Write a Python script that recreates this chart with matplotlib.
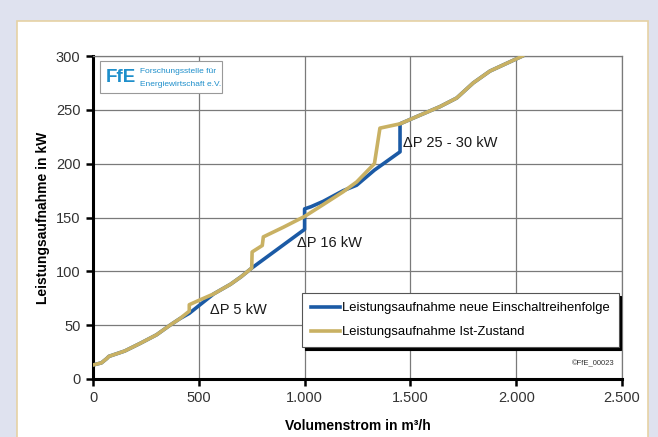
import numpy as np
import matplotlib
matplotlib.use('Agg')
import matplotlib.pyplot as plt
from matplotlib.patches import Rectangle

plt.rcParams['font.family'] = ['Liberation Sans', 'DejaVu Sans']

# Ist-Zustand (tan line)
ist_x = [0, 40, 65, 75, 90, 150, 222, 300, 364, 410, 455, 455, 500, 570, 650, 700,
         750, 752, 800, 805, 900, 1000, 1088, 1183, 1246, 1330, 1356, 1451, 1545,
         1640, 1719, 1797, 1876, 2030]
ist_y = [13, 15, 19, 21, 22, 26, 33, 41, 50, 56, 63, 69, 73, 79, 88, 95,
         103, 118, 124, 132, 141, 151, 162, 174, 183, 200, 233, 237, 245,
         253, 261, 275, 286, 300]

# neue Einschaltreihenfolge (blue line)
neu_x = [0, 40, 65, 75, 90, 150, 222, 300, 364, 410, 455, 570, 650, 700, 750,
         1000, 1000, 1030, 1088, 1183, 1246, 1330, 1451, 1451, 1545, 1640, 1719,
         1797, 1876, 2030]
neu_y = [13, 15, 19, 21, 22, 26, 33, 41, 50, 56, 61, 79, 88, 95, 103,
         139, 158, 160, 165, 175, 180, 194, 211, 237, 245, 253, 261,
         275, 286, 300]

labels = ['Leistungsaufnahme neue Einschaltreihenfolge',
          'Leistungsaufnahme Ist-Zustand']
notes = ['\u0394P 5 kW', '\u0394P 16 kW', '\u0394P 25 - 30 kW']
note_x = [553, 962, 1465]
note_y = [64, 126, 219]

W, H = 658, 437
fig = plt.figure(figsize=(W / 100, H / 100), dpi=100)
fig.patch.set_facecolor('#dfe2ef')

# white panel with tan border, behind the axes
fig.patches.append(Rectangle((17 / W, -0.02), (648 - 17) / W, 1 - 21 / H + 0.02,
                             transform=fig.transFigure, facecolor='white',
                             edgecolor='#e6d2a4', linewidth=1.2, zorder=-10))

ax = fig.add_axes([93 / W, 1 - 379 / H, (622 - 93) / W, (379 - 56) / H])
ax.set_facecolor('none')

ax.plot(neu_x, neu_y, color='#1b5aa5', lw=2.6, label=labels[0], zorder=3)
ax.plot(ist_x, ist_y, color='#c9b163', lw=2.6, label=labels[1], zorder=4)

ax.set_xlim(0, 2500)
ax.set_ylim(0, 300)
ax.set_xticks(np.arange(0, 2501, 500))
ax.set_xticklabels(['0', '500', '1.000', '1.500', '2.000', '2.500'])
ax.set_yticks(np.arange(0, 301, 50))
ax.grid(True, color='#7a7a7a', lw=0.9)
ax.set_axisbelow(True)

for s in ['top', 'right']:
    ax.spines[s].set_color('#7a7a7a')
    ax.spines[s].set_linewidth(0.9)
for s in ['left', 'bottom']:
    ax.spines[s].set_color('black')
    ax.spines[s].set_linewidth(2.2)
ax.tick_params(length=5, width=1.8, color='black', labelsize=10.5,
               labelcolor='#333333', pad=4)

ax.set_xlabel('Volumenstrom in m\u00b3/h', fontsize=10, fontweight='bold', labelpad=10)
ax.set_ylabel('Leistungsaufnahme in kW', fontsize=10, fontweight='bold', labelpad=4)

for t, x, y in zip(notes, note_x, note_y):
    ax.text(x, y, t, fontsize=10.5, color='#1a1a1a', va='center', ha='left', zorder=5)

leg = ax.legend(loc='upper left', bbox_to_anchor=((302 - 93) / 529, (379 - 293) / 323),
                fontsize=9.4, frameon=True, fancybox=False, framealpha=1,
                edgecolor='#555555', handlelength=2.2, handletextpad=0.15,
                borderpad=0.7, labelspacing=0.9, borderaxespad=0,
                shadow={'color': 'black', 'alpha': 1})
leg.get_frame().set_linewidth(0.8)

ax.text(0.985, 0.035, '\u00a9FfE_00023', transform=ax.transAxes, fontsize=5.5,
        ha='right', va='bottom', color='#333333')

# logo box
ax.add_patch(Rectangle((0.0136, 0.884), 0.231, 0.099, transform=ax.transAxes,
                       facecolor='white', edgecolor='#999999', lw=0.8, zorder=5))
ax.text(0.024, 0.933, 'FfE', transform=ax.transAxes, fontsize=13.5, fontweight='bold',
        color='#1e8fcb', va='center', ha='left', zorder=6)
ax.text(0.088, 0.953, 'Forschungsstelle f\u00fcr', transform=ax.transAxes,
        fontsize=6, color='#1e8fcb', va='center', ha='left', zorder=6)
ax.text(0.088, 0.912, 'Energiewirtschaft e.V.', transform=ax.transAxes,
        fontsize=6, color='#1e8fcb', va='center', ha='left', zorder=6)

fig.savefig('out.png', dpi=100, facecolor=fig.get_facecolor())
